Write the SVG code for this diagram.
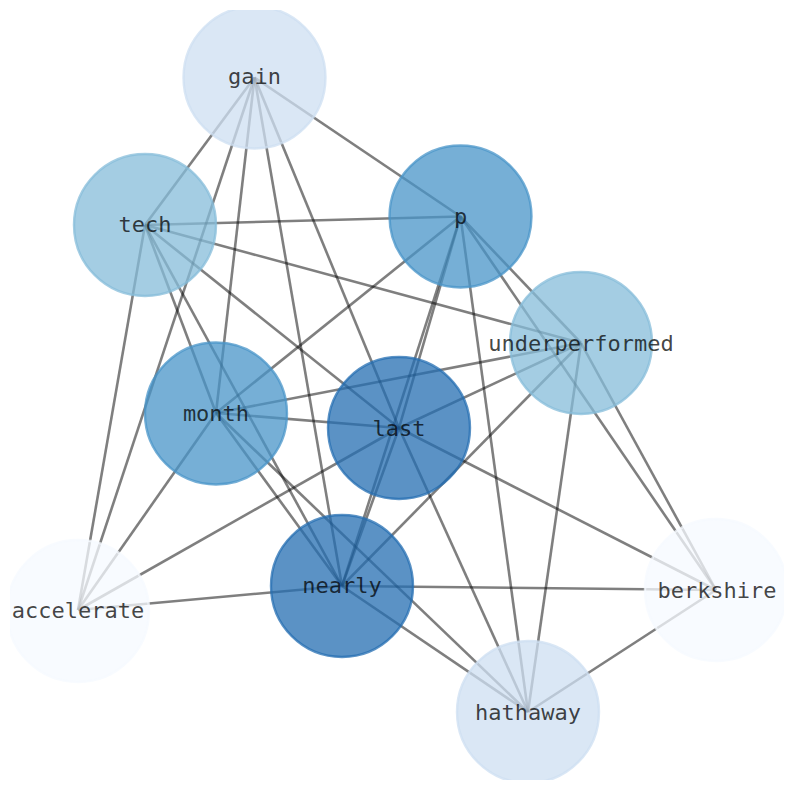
<svg xmlns="http://www.w3.org/2000/svg" width="794" height="790" viewBox="0 0 794 790">
<defs>
<clipPath id="ax"><rect x="10" y="10" width="774" height="770"/></clipPath>
<style>
.e{stroke:#000;stroke-opacity:0.5;stroke-width:2.6;fill:none}
.n{stroke-width:2.4;fill-opacity:0.75;stroke-opacity:0.75}
.c1{fill:#cedff2;stroke:#cedff2}
.c2{fill:#86bcda;stroke:#86bcda}
.c3{fill:#4894c8;stroke:#4894c8}
.c4{fill:#246eb2;stroke:#246eb2}
.c5{fill:#f5faff;stroke:#f5faff}
text{font-family:"DejaVu Sans Mono","Liberation Mono",monospace;font-size:22px;fill:#000;fill-opacity:0.74;text-anchor:middle;dominant-baseline:central}
</style>
</defs>
<rect width="794" height="790" fill="#fff"/>
<g clip-path="url(#ax)">
<g id="edges">
<line class="e" x1="254.5" y1="77.5" x2="460.5" y2="216.5"/>
<line class="e" x1="254.5" y1="77.5" x2="145" y2="225"/>
<line class="e" x1="254.5" y1="77.5" x2="78" y2="610"/>
<line class="e" x1="254.5" y1="77.5" x2="216" y2="413"/>
<line class="e" x1="254.5" y1="77.5" x2="342" y2="586"/>
<line class="e" x1="254.5" y1="77.5" x2="399" y2="428"/>
<line class="e" x1="145" y1="225" x2="460.5" y2="216.5"/>
<line class="e" x1="145" y1="225" x2="581" y2="343"/>
<line class="e" x1="145" y1="225" x2="399" y2="428"/>
<line class="e" x1="145" y1="225" x2="216" y2="413"/>
<line class="e" x1="145" y1="225" x2="342" y2="586"/>
<line class="e" x1="145" y1="225" x2="78" y2="610"/>
<line class="e" x1="460.5" y1="216.5" x2="216" y2="413"/>
<line class="e" x1="460.5" y1="216.5" x2="399" y2="428"/>
<line class="e" x1="460.5" y1="216.5" x2="342" y2="586"/>
<line class="e" x1="460.5" y1="216.5" x2="528" y2="712"/>
<line class="e" x1="460.5" y1="216.5" x2="581" y2="343"/>
<line class="e" x1="460.5" y1="216.5" x2="716" y2="590"/>
<line class="e" x1="581" y1="343" x2="216" y2="413"/>
<line class="e" x1="581" y1="343" x2="399" y2="428"/>
<line class="e" x1="581" y1="343" x2="342" y2="586"/>
<line class="e" x1="581" y1="343" x2="528" y2="712"/>
<line class="e" x1="581" y1="343" x2="716" y2="590"/>
<line class="e" x1="216" y1="413" x2="399" y2="428"/>
<line class="e" x1="216" y1="413" x2="342" y2="586"/>
<line class="e" x1="216" y1="413" x2="528" y2="712"/>
<line class="e" x1="216" y1="413" x2="78" y2="610"/>
<line class="e" x1="399" y1="428" x2="342" y2="586"/>
<line class="e" x1="399" y1="428" x2="78" y2="610"/>
<line class="e" x1="399" y1="428" x2="528" y2="712"/>
<line class="e" x1="399" y1="428" x2="716" y2="590"/>
<line class="e" x1="342" y1="586" x2="78" y2="610"/>
<line class="e" x1="342" y1="586" x2="716" y2="590"/>
<line class="e" x1="342" y1="586" x2="528" y2="712"/>
<line class="e" x1="716" y1="590" x2="528" y2="712"/>
</g>
<g id="node-gain"><circle class="n c1" cx="254.5" cy="77.5" r="71"/><text x="254.5" y="76">gain</text></g>
<g id="node-tech"><circle class="n c2" cx="145" cy="225" r="71"/><text x="145" y="224">tech</text></g>
<g id="node-p"><circle class="n c3" cx="460.5" cy="216.5" r="71"/><text x="460.5" y="216">p</text></g>
<g id="node-underperformed"><circle class="n c2" cx="581" cy="343" r="71"/><text x="581" y="343">underperformed</text></g>
<g id="node-month"><circle class="n c3" cx="216" cy="413.5" r="71"/><text x="216" y="413">month</text></g>
<g id="node-last"><circle class="n c4" cx="399" cy="428" r="71"/><text x="399" y="428">last</text></g>
<g id="node-nearly"><circle class="n c4" cx="342" cy="586" r="71"/><text x="342" y="585">nearly</text></g>
<g id="node-accelerate"><circle class="n c5" cx="78" cy="611" r="71"/><text x="78" y="610">accelerate</text></g>
<g id="node-berkshire"><circle class="n c5" cx="716" cy="590" r="71"/><text x="717" y="590">berkshire</text></g>
<g id="node-hathaway"><circle class="n c1" cx="528" cy="712" r="71"/><text x="528" y="712">hathaway</text></g>
</g>
</svg>
